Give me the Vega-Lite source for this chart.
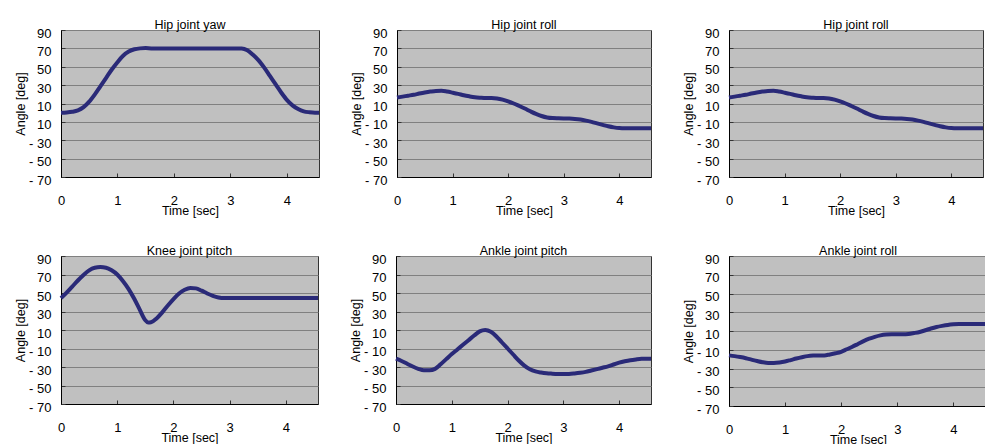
{
  "$schema": "https://vega.github.io/schema/vega-lite/v6.json",
  "padding": {"left": 14, "top": 18, "right": 0, "bottom": 0},
  "background": "white",
  "data": {"values": [
    {"panel": "Hip joint yaw", "t": 0.0, "angle": 0},
    {"panel": "Hip joint yaw", "t": 0.1, "angle": 0.3},
    {"panel": "Hip joint yaw", "t": 0.2, "angle": 1},
    {"panel": "Hip joint yaw", "t": 0.3, "angle": 2.5},
    {"panel": "Hip joint yaw", "t": 0.4, "angle": 6},
    {"panel": "Hip joint yaw", "t": 0.5, "angle": 12},
    {"panel": "Hip joint yaw", "t": 0.6, "angle": 20},
    {"panel": "Hip joint yaw", "t": 0.7, "angle": 29},
    {"panel": "Hip joint yaw", "t": 0.8, "angle": 38},
    {"panel": "Hip joint yaw", "t": 0.9, "angle": 47},
    {"panel": "Hip joint yaw", "t": 1.0, "angle": 55},
    {"panel": "Hip joint yaw", "t": 1.1, "angle": 62},
    {"panel": "Hip joint yaw", "t": 1.2, "angle": 66.5},
    {"panel": "Hip joint yaw", "t": 1.3, "angle": 69},
    {"panel": "Hip joint yaw", "t": 1.4, "angle": 70},
    {"panel": "Hip joint yaw", "t": 1.5, "angle": 70.3},
    {"panel": "Hip joint yaw", "t": 1.6, "angle": 70},
    {"panel": "Hip joint yaw", "t": 2.0, "angle": 70},
    {"panel": "Hip joint yaw", "t": 2.5, "angle": 70},
    {"panel": "Hip joint yaw", "t": 3.0, "angle": 70},
    {"panel": "Hip joint yaw", "t": 3.2, "angle": 70},
    {"panel": "Hip joint yaw", "t": 3.3, "angle": 68},
    {"panel": "Hip joint yaw", "t": 3.4, "angle": 63},
    {"panel": "Hip joint yaw", "t": 3.5, "angle": 57},
    {"panel": "Hip joint yaw", "t": 3.6, "angle": 49},
    {"panel": "Hip joint yaw", "t": 3.7, "angle": 40},
    {"panel": "Hip joint yaw", "t": 3.8, "angle": 31},
    {"panel": "Hip joint yaw", "t": 3.9, "angle": 22},
    {"panel": "Hip joint yaw", "t": 4.0, "angle": 14},
    {"panel": "Hip joint yaw", "t": 4.1, "angle": 8},
    {"panel": "Hip joint yaw", "t": 4.2, "angle": 4},
    {"panel": "Hip joint yaw", "t": 4.3, "angle": 1.5},
    {"panel": "Hip joint yaw", "t": 4.4, "angle": 0.5},
    {"panel": "Hip joint yaw", "t": 4.5, "angle": 0},
    {"panel": "Hip joint yaw", "t": 4.57, "angle": 0},

    {"panel": "Hip joint roll", "t": 0.0, "angle": 16.5},
    {"panel": "Hip joint roll", "t": 0.1, "angle": 17.5},
    {"panel": "Hip joint roll", "t": 0.2, "angle": 18.5},
    {"panel": "Hip joint roll", "t": 0.3, "angle": 19.5},
    {"panel": "Hip joint roll", "t": 0.4, "angle": 20.8},
    {"panel": "Hip joint roll", "t": 0.5, "angle": 22},
    {"panel": "Hip joint roll", "t": 0.6, "angle": 23},
    {"panel": "Hip joint roll", "t": 0.7, "angle": 23.7},
    {"panel": "Hip joint roll", "t": 0.8, "angle": 23.8},
    {"panel": "Hip joint roll", "t": 0.9, "angle": 23},
    {"panel": "Hip joint roll", "t": 1.0, "angle": 21.8},
    {"panel": "Hip joint roll", "t": 1.1, "angle": 20.5},
    {"panel": "Hip joint roll", "t": 1.2, "angle": 19},
    {"panel": "Hip joint roll", "t": 1.3, "angle": 17.8},
    {"panel": "Hip joint roll", "t": 1.4, "angle": 16.8},
    {"panel": "Hip joint roll", "t": 1.5, "angle": 16.3},
    {"panel": "Hip joint roll", "t": 1.6, "angle": 16},
    {"panel": "Hip joint roll", "t": 1.7, "angle": 16},
    {"panel": "Hip joint roll", "t": 1.8, "angle": 15.5},
    {"panel": "Hip joint roll", "t": 1.9, "angle": 14.2},
    {"panel": "Hip joint roll", "t": 2.0, "angle": 12.3},
    {"panel": "Hip joint roll", "t": 2.1, "angle": 10},
    {"panel": "Hip joint roll", "t": 2.2, "angle": 7.3},
    {"panel": "Hip joint roll", "t": 2.3, "angle": 4.5},
    {"panel": "Hip joint roll", "t": 2.4, "angle": 1.5},
    {"panel": "Hip joint roll", "t": 2.5, "angle": -1.3},
    {"panel": "Hip joint roll", "t": 2.6, "angle": -3.6},
    {"panel": "Hip joint roll", "t": 2.7, "angle": -5.2},
    {"panel": "Hip joint roll", "t": 2.8, "angle": -5.9},
    {"panel": "Hip joint roll", "t": 2.9, "angle": -6.1},
    {"panel": "Hip joint roll", "t": 3.0, "angle": -6.2},
    {"panel": "Hip joint roll", "t": 3.1, "angle": -6.4},
    {"panel": "Hip joint roll", "t": 3.2, "angle": -6.8},
    {"panel": "Hip joint roll", "t": 3.3, "angle": -7.5},
    {"panel": "Hip joint roll", "t": 3.4, "angle": -8.6},
    {"panel": "Hip joint roll", "t": 3.5, "angle": -10},
    {"panel": "Hip joint roll", "t": 3.6, "angle": -11.6},
    {"panel": "Hip joint roll", "t": 3.7, "angle": -13.2},
    {"panel": "Hip joint roll", "t": 3.8, "angle": -14.8},
    {"panel": "Hip joint roll", "t": 3.9, "angle": -16},
    {"panel": "Hip joint roll", "t": 4.0, "angle": -16.7},
    {"panel": "Hip joint roll", "t": 4.1, "angle": -16.9},
    {"panel": "Hip joint roll", "t": 4.57, "angle": -16.9},

    {"panel": "Knee joint pitch", "t": 0.0, "angle": 44.5},
    {"panel": "Knee joint pitch", "t": 0.1, "angle": 50.5},
    {"panel": "Knee joint pitch", "t": 0.2, "angle": 57},
    {"panel": "Knee joint pitch", "t": 0.3, "angle": 63.5},
    {"panel": "Knee joint pitch", "t": 0.4, "angle": 69.5},
    {"panel": "Knee joint pitch", "t": 0.5, "angle": 74.5},
    {"panel": "Knee joint pitch", "t": 0.6, "angle": 77.3},
    {"panel": "Knee joint pitch", "t": 0.7, "angle": 78},
    {"panel": "Knee joint pitch", "t": 0.8, "angle": 77.3},
    {"panel": "Knee joint pitch", "t": 0.9, "angle": 74.5},
    {"panel": "Knee joint pitch", "t": 1.0, "angle": 70},
    {"panel": "Knee joint pitch", "t": 1.1, "angle": 63},
    {"panel": "Knee joint pitch", "t": 1.2, "angle": 54.5},
    {"panel": "Knee joint pitch", "t": 1.3, "angle": 44},
    {"panel": "Knee joint pitch", "t": 1.4, "angle": 32},
    {"panel": "Knee joint pitch", "t": 1.5, "angle": 20.5},
    {"panel": "Knee joint pitch", "t": 1.55, "angle": 18},
    {"panel": "Knee joint pitch", "t": 1.6, "angle": 18.3},
    {"panel": "Knee joint pitch", "t": 1.7, "angle": 22.5},
    {"panel": "Knee joint pitch", "t": 1.8, "angle": 29},
    {"panel": "Knee joint pitch", "t": 1.9, "angle": 36.5},
    {"panel": "Knee joint pitch", "t": 2.0, "angle": 43.5},
    {"panel": "Knee joint pitch", "t": 2.1, "angle": 49.5},
    {"panel": "Knee joint pitch", "t": 2.2, "angle": 53.5},
    {"panel": "Knee joint pitch", "t": 2.3, "angle": 55.5},
    {"panel": "Knee joint pitch", "t": 2.4, "angle": 55},
    {"panel": "Knee joint pitch", "t": 2.5, "angle": 52.5},
    {"panel": "Knee joint pitch", "t": 2.6, "angle": 49.5},
    {"panel": "Knee joint pitch", "t": 2.7, "angle": 47},
    {"panel": "Knee joint pitch", "t": 2.8, "angle": 45.2},
    {"panel": "Knee joint pitch", "t": 2.9, "angle": 44.5},
    {"panel": "Knee joint pitch", "t": 4.57, "angle": 44.5},

    {"panel": "Ankle joint pitch", "t": 0.0, "angle": -21},
    {"panel": "Ankle joint pitch", "t": 0.1, "angle": -23.5},
    {"panel": "Ankle joint pitch", "t": 0.2, "angle": -26.5},
    {"panel": "Ankle joint pitch", "t": 0.3, "angle": -29.5},
    {"panel": "Ankle joint pitch", "t": 0.4, "angle": -32},
    {"panel": "Ankle joint pitch", "t": 0.5, "angle": -33.5},
    {"panel": "Ankle joint pitch", "t": 0.6, "angle": -33.5},
    {"panel": "Ankle joint pitch", "t": 0.7, "angle": -32},
    {"panel": "Ankle joint pitch", "t": 0.8, "angle": -27},
    {"panel": "Ankle joint pitch", "t": 0.9, "angle": -21.5},
    {"panel": "Ankle joint pitch", "t": 1.0, "angle": -16},
    {"panel": "Ankle joint pitch", "t": 1.1, "angle": -11},
    {"panel": "Ankle joint pitch", "t": 1.2, "angle": -6},
    {"panel": "Ankle joint pitch", "t": 1.3, "angle": -1},
    {"panel": "Ankle joint pitch", "t": 1.4, "angle": 4},
    {"panel": "Ankle joint pitch", "t": 1.5, "angle": 8.5},
    {"panel": "Ankle joint pitch", "t": 1.6, "angle": 10},
    {"panel": "Ankle joint pitch", "t": 1.7, "angle": 8},
    {"panel": "Ankle joint pitch", "t": 1.8, "angle": 3},
    {"panel": "Ankle joint pitch", "t": 1.9, "angle": -3.5},
    {"panel": "Ankle joint pitch", "t": 2.0, "angle": -10},
    {"panel": "Ankle joint pitch", "t": 2.1, "angle": -16.5},
    {"panel": "Ankle joint pitch", "t": 2.2, "angle": -23},
    {"panel": "Ankle joint pitch", "t": 2.3, "angle": -28.5},
    {"panel": "Ankle joint pitch", "t": 2.4, "angle": -32.5},
    {"panel": "Ankle joint pitch", "t": 2.5, "angle": -34.8},
    {"panel": "Ankle joint pitch", "t": 2.6, "angle": -36},
    {"panel": "Ankle joint pitch", "t": 2.7, "angle": -36.8},
    {"panel": "Ankle joint pitch", "t": 2.8, "angle": -37.2},
    {"panel": "Ankle joint pitch", "t": 2.9, "angle": -37.5},
    {"panel": "Ankle joint pitch", "t": 3.0, "angle": -37.6},
    {"panel": "Ankle joint pitch", "t": 3.1, "angle": -37.5},
    {"panel": "Ankle joint pitch", "t": 3.2, "angle": -37},
    {"panel": "Ankle joint pitch", "t": 3.3, "angle": -36.3},
    {"panel": "Ankle joint pitch", "t": 3.4, "angle": -35.3},
    {"panel": "Ankle joint pitch", "t": 3.5, "angle": -33.8},
    {"panel": "Ankle joint pitch", "t": 3.6, "angle": -32.3},
    {"panel": "Ankle joint pitch", "t": 3.7, "angle": -30.8},
    {"panel": "Ankle joint pitch", "t": 3.8, "angle": -29.3},
    {"panel": "Ankle joint pitch", "t": 3.9, "angle": -27.3},
    {"panel": "Ankle joint pitch", "t": 4.0, "angle": -25.3},
    {"panel": "Ankle joint pitch", "t": 4.1, "angle": -23.8},
    {"panel": "Ankle joint pitch", "t": 4.2, "angle": -22.6},
    {"panel": "Ankle joint pitch", "t": 4.3, "angle": -21.8},
    {"panel": "Ankle joint pitch", "t": 4.4, "angle": -21.2},
    {"panel": "Ankle joint pitch", "t": 4.57, "angle": -21},

    {"panel": "Ankle joint roll", "t": 0.0, "angle": -16},
    {"panel": "Ankle joint roll", "t": 0.1, "angle": -16.8},
    {"panel": "Ankle joint roll", "t": 0.2, "angle": -17.8},
    {"panel": "Ankle joint roll", "t": 0.3, "angle": -19},
    {"panel": "Ankle joint roll", "t": 0.4, "angle": -20.5},
    {"panel": "Ankle joint roll", "t": 0.5, "angle": -22},
    {"panel": "Ankle joint roll", "t": 0.6, "angle": -23.3},
    {"panel": "Ankle joint roll", "t": 0.7, "angle": -24},
    {"panel": "Ankle joint roll", "t": 0.8, "angle": -24},
    {"panel": "Ankle joint roll", "t": 0.9, "angle": -23.5},
    {"panel": "Ankle joint roll", "t": 1.0, "angle": -22.5},
    {"panel": "Ankle joint roll", "t": 1.1, "angle": -21},
    {"panel": "Ankle joint roll", "t": 1.2, "angle": -19.4},
    {"panel": "Ankle joint roll", "t": 1.3, "angle": -18},
    {"panel": "Ankle joint roll", "t": 1.4, "angle": -16.8},
    {"panel": "Ankle joint roll", "t": 1.5, "angle": -16.2},
    {"panel": "Ankle joint roll", "t": 1.6, "angle": -16},
    {"panel": "Ankle joint roll", "t": 1.7, "angle": -16},
    {"panel": "Ankle joint roll", "t": 1.8, "angle": -15},
    {"panel": "Ankle joint roll", "t": 1.9, "angle": -13.8},
    {"panel": "Ankle joint roll", "t": 2.0, "angle": -12.2},
    {"panel": "Ankle joint roll", "t": 2.1, "angle": -9.5},
    {"panel": "Ankle joint roll", "t": 2.2, "angle": -6.8},
    {"panel": "Ankle joint roll", "t": 2.3, "angle": -3.8},
    {"panel": "Ankle joint roll", "t": 2.4, "angle": -0.8},
    {"panel": "Ankle joint roll", "t": 2.5, "angle": 1.8},
    {"panel": "Ankle joint roll", "t": 2.6, "angle": 3.8},
    {"panel": "Ankle joint roll", "t": 2.7, "angle": 5.3},
    {"panel": "Ankle joint roll", "t": 2.8, "angle": 6.2},
    {"panel": "Ankle joint roll", "t": 2.9, "angle": 6.5},
    {"panel": "Ankle joint roll", "t": 3.0, "angle": 6.5},
    {"panel": "Ankle joint roll", "t": 3.1, "angle": 6.5},
    {"panel": "Ankle joint roll", "t": 3.2, "angle": 6.8},
    {"panel": "Ankle joint roll", "t": 3.3, "angle": 7.8},
    {"panel": "Ankle joint roll", "t": 3.4, "angle": 9},
    {"panel": "Ankle joint roll", "t": 3.5, "angle": 10.8},
    {"panel": "Ankle joint roll", "t": 3.6, "angle": 12.7},
    {"panel": "Ankle joint roll", "t": 3.7, "angle": 14.3},
    {"panel": "Ankle joint roll", "t": 3.8, "angle": 15.5},
    {"panel": "Ankle joint roll", "t": 3.9, "angle": 16.5},
    {"panel": "Ankle joint roll", "t": 4.0, "angle": 17.1},
    {"panel": "Ankle joint roll", "t": 4.1, "angle": 17.4},
    {"panel": "Ankle joint roll", "t": 4.57, "angle": 17.4}
  ]},
  "vconcat": [
    {
      "hconcat": [
        {
          "title": "Hip joint yaw",
          "width": 258, "height": 147,
          "transform": [{"filter": "datum.panel === 'Hip joint yaw'"}],
          "mark": {"type": "line", "color": "#2a2a78", "strokeWidth": 4, "interpolate": "monotone"},
          "encoding": {
            "x": {"field": "t", "type": "quantitative", "scale": {"domain": [0, 4.57], "nice": false, "zero": false}, "axis": {"values": [0, 1, 2, 3, 4], "title": "Time [sec]"}},
            "y": {"field": "angle", "type": "quantitative", "scale": {"domain": [-70, 90], "nice": false}, "axis": {"values": [-70, -50, -30, -10, 10, 30, 50, 70, 90], "title": "Angle [deg]", "labelExpr": "datum.value === -10 ? '10' : (datum.value < 0 ? '- ' + (-datum.value) : '' + datum.value)"}}
          }
        },
        {
          "title": "Hip joint roll",
          "width": 254, "height": 147,
          "transform": [{"filter": "datum.panel === 'Hip joint roll'"}],
          "mark": {"type": "line", "color": "#2a2a78", "strokeWidth": 4, "interpolate": "monotone"},
          "encoding": {
            "x": {"field": "t", "type": "quantitative", "scale": {"domain": [0, 4.57], "nice": false, "zero": false}, "axis": {"values": [0, 1, 2, 3, 4], "title": "Time [sec]"}},
            "y": {"field": "angle", "type": "quantitative", "scale": {"domain": [-70, 90], "nice": false}, "axis": {"values": [-70, -50, -30, -10, 10, 30, 50, 70, 90], "title": "Angle [deg]", "labelExpr": "datum.value < 0 ? '- ' + (-datum.value) : '' + datum.value"}}
          }
        },
        {
          "title": "Hip joint roll",
          "width": 254, "height": 147,
          "transform": [{"filter": "datum.panel === 'Hip joint roll'"}],
          "mark": {"type": "line", "color": "#2a2a78", "strokeWidth": 4, "interpolate": "monotone"},
          "encoding": {
            "x": {"field": "t", "type": "quantitative", "scale": {"domain": [0, 4.57], "nice": false, "zero": false}, "axis": {"values": [0, 1, 2, 3, 4], "title": "Time [sec]"}},
            "y": {"field": "angle", "type": "quantitative", "scale": {"domain": [-70, 90], "nice": false}, "axis": {"values": [-70, -50, -30, -10, 10, 30, 50, 70, 90], "title": "Angle [deg]", "labelExpr": "datum.value < 0 ? '- ' + (-datum.value) : '' + datum.value"}}
          }
        }
      ]
    },
    {
      "hconcat": [
        {
          "title": "Knee joint pitch",
          "width": 257, "height": 148,
          "transform": [{"filter": "datum.panel === 'Knee joint pitch'"}],
          "mark": {"type": "line", "color": "#2a2a78", "strokeWidth": 4, "interpolate": "monotone"},
          "encoding": {
            "x": {"field": "t", "type": "quantitative", "scale": {"domain": [0, 4.57], "nice": false, "zero": false}, "axis": {"values": [0, 1, 2, 3, 4], "title": "Time [sec]"}},
            "y": {"field": "angle", "type": "quantitative", "scale": {"domain": [-70, 90], "nice": false}, "axis": {"values": [-70, -50, -30, -10, 10, 30, 50, 70, 90], "title": "Angle [deg]", "labelExpr": "datum.value < 0 ? '- ' + (-datum.value) : '' + datum.value"}}
          }
        },
        {
          "title": "Ankle joint pitch",
          "width": 255, "height": 148,
          "transform": [{"filter": "datum.panel === 'Ankle joint pitch'"}],
          "mark": {"type": "line", "color": "#2a2a78", "strokeWidth": 4, "interpolate": "monotone"},
          "encoding": {
            "x": {"field": "t", "type": "quantitative", "scale": {"domain": [0, 4.57], "nice": false, "zero": false}, "axis": {"values": [0, 1, 2, 3, 4], "title": "Time [sec]"}},
            "y": {"field": "angle", "type": "quantitative", "scale": {"domain": [-70, 90], "nice": false}, "axis": {"values": [-70, -50, -30, -10, 10, 30, 50, 70, 90], "title": "Angle [deg]", "labelExpr": "datum.value < 0 ? '- ' + (-datum.value) : '' + datum.value"}}
          }
        },
        {
          "title": "Ankle joint roll",
          "width": 258, "height": 150,
          "transform": [{"filter": "datum.panel === 'Ankle joint roll'"}],
          "mark": {"type": "line", "color": "#2a2a78", "strokeWidth": 4, "interpolate": "monotone"},
          "encoding": {
            "x": {"field": "t", "type": "quantitative", "scale": {"domain": [0, 4.6], "nice": false, "zero": false}, "axis": {"values": [0, 1, 2, 3, 4], "title": "Time [sec]"}},
            "y": {"field": "angle", "type": "quantitative", "scale": {"domain": [-70, 90], "nice": false}, "axis": {"values": [-70, -50, -30, -10, 10, 30, 50, 70, 90], "title": "Angle [deg]", "labelExpr": "datum.value < 0 ? '- ' + (-datum.value) : '' + datum.value"}}
          }
        }
      ]
    }
  ],
  "spacing": 27,
  "config": {
    "font": "Liberation Sans",
    "concat": {"spacing": 22},
    "view": {"fill": "#c0c0c0", "stroke": "#333333", "strokeWidth": 1},
    "title": {"fontSize": 12.5, "fontWeight": "normal", "color": "#000000", "offset": -4, "anchor": "middle"},
    "axis": {
      "domainColor": "#000000",
      "domainWidth": 1,
      "tickColor": "#333333",
      "tickSize": -4,
      "labelFontSize": 13,
      "labelColor": "#000000",
      "labelFlush": false,
      "labelOverlap": false,
      "titleFontSize": 12.5,
      "titleFontWeight": "normal",
      "titleColor": "#000000"
    },
    "axisX": {"grid": false, "labelPadding": 21, "titleY": 37, "titleBaseline": "alphabetic"},
    "axisY": {"grid": true, "gridColor": "#808080", "gridWidth": 1, "labelPadding": 14, "labelOffset": 3, "titlePadding": 1}
  }
}
